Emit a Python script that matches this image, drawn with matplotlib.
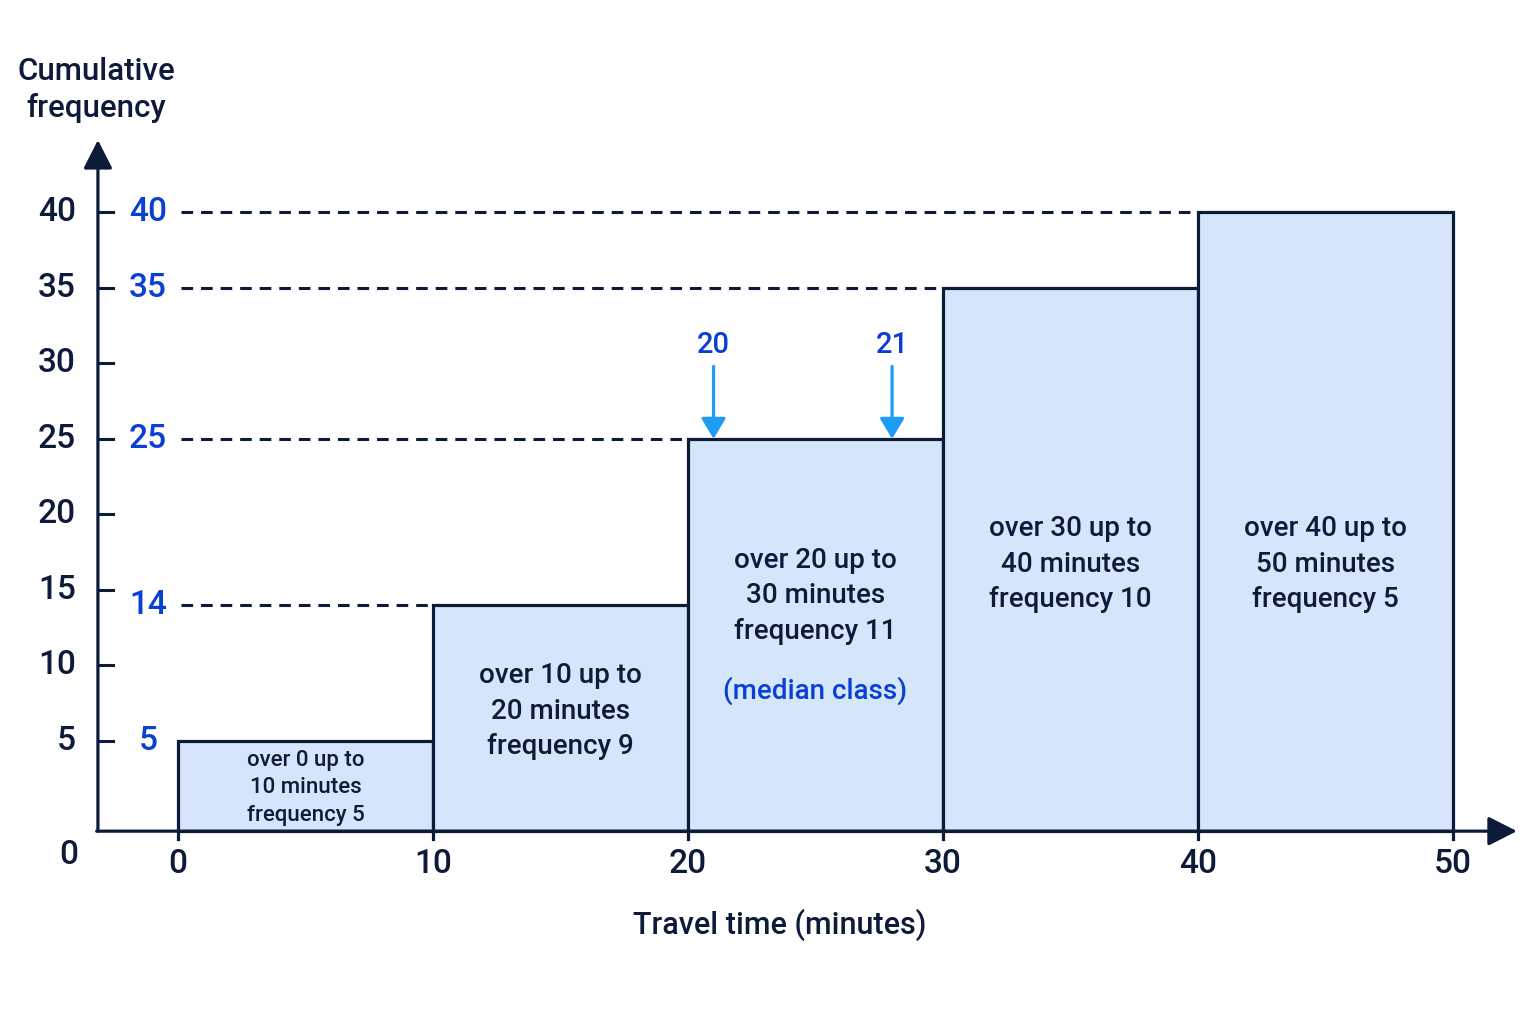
import matplotlib.pyplot as plt

plt.rcParams["font.family"] = ["Roboto", "DejaVu Sans"]
plt.rcParams["font.weight"] = "medium"

# class boundaries (minutes) and cumulative frequencies
lower = [0, 10, 20, 30, 40]
upper = [10, 20, 30, 40, 50]
freq = [5, 9, 11, 10, 5]
cum_freq = [5, 14, 25, 35, 40]
y_ticks = [5, 10, 15, 20, 25, 30, 35, 40]
x_ticks = [0, 10, 20, 30, 40, 50]
median_marks = [21.0, 28.0]
median_labels = ["20", "21"]

dark = "#0d1a3a"
blue_txt = "#0a3fd6"
blue_arrow = "#1e9bf5"
fill = "#d6e6fa"

fig = plt.figure(figsize=(15.36, 10.24), dpi=100)
ax = fig.add_axes([0, 0, 1, 1])
ax.set_xlim(-6.98, 53.25)
ax.set_ylim(-13.78, 54.08)
ax.axis("off")

axis_y = -1.0
axis_x = -3.14

# bars
widths = [u - l for l, u in zip(lower, upper)]
heights = [c - axis_y for c in cum_freq]
ax.bar(lower, heights, width=widths, bottom=axis_y, align="edge",
       color=fill, edgecolor=dark, linewidth=2.3, zorder=2)

# dashed guides from the vertical axis to each bar
for l, c in zip(lower, cum_freq):
    if l > 0:
        ax.plot([0.1, l], [c, c], color=dark, lw=2.2, dashes=(3.8, 2.6), zorder=1)

# axes arrows
ax.annotate("", xy=(axis_x, 44.8), xytext=(axis_x, axis_y),
            arrowprops=dict(arrowstyle="-|>,head_length=0.55,head_width=0.28",
                            mutation_scale=32, color=dark, lw=2.3,
                            shrinkA=0, shrinkB=0), zorder=3)
ax.annotate("", xy=(52.5, axis_y), xytext=(axis_x - 0.05, axis_y),
            arrowprops=dict(arrowstyle="-|>,head_length=0.55,head_width=0.28",
                            mutation_scale=32, color=dark, lw=2.3,
                            shrinkA=0, shrinkB=0), zorder=3)

# y ticks and labels
for t in y_ticks:
    ax.plot([axis_x, axis_x + 0.6], [t, t], color=dark, lw=2.2, zorder=3)
    ax.text(-4.0, t, str(t), ha="right", va="center", fontsize=24, color=dark)
ax.text(-4.3, -2.6, "0", ha="center", va="center", fontsize=24, color=dark)
for c in cum_freq:
    ax.text(-1.18, c, str(c), ha="center", va="center", fontsize=24, color=blue_txt)

# x ticks and labels
for t in x_ticks:
    ax.plot([t, t], [axis_y, axis_y - 0.5], color=dark, lw=2.3, zorder=3)
    ax.text(t, -3.2, str(t), ha="center", va="center", fontsize=24, color=dark)

# class labels
label_y = [1.86, 6.96, 14.6, 16.7, 16.7]
for i, (l, u, f) in enumerate(zip(lower, upper, freq)):
    txt = f"over {l} up to\n{u} minutes\nfrequency {f}"
    size = 16 if i == 0 else 20
    ax.text((l + u) / 2, label_y[i], txt, ha="center", va="center",
            fontsize=size, color=dark, linespacing=1.4, zorder=4)
ax.text(25, 8.3, "(median class)", ha="center", va="center",
        fontsize=20, color=blue_txt, zorder=4)

# median position arrows
for xm, lab in zip(median_marks, median_labels):
    ax.annotate("", xy=(xm, cum_freq[2]), xytext=(xm, 29.8),
                arrowprops=dict(arrowstyle="-|>,head_length=0.5,head_width=0.3",
                                mutation_scale=25, color=blue_arrow, lw=2.3,
                                shrinkA=0, shrinkB=0), zorder=5)
    ax.text(xm, 31.2, lab, ha="center", va="center", fontsize=21, color=blue_txt)

# axis titles
ax.text(-3.2, 48.1, "Cumulative\nfrequency", ha="center", va="center",
        fontsize=22.5, color=dark, linespacing=1.3)
ax.text(23.6, -7.2, "Travel time (minutes)", ha="center", va="center",
        fontsize=22, color=dark)

fig.savefig("out.png", dpi=100)
